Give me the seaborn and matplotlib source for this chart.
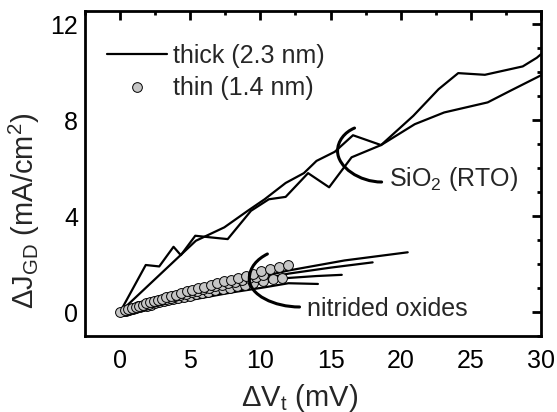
import matplotlib
matplotlib.use("Agg")
import matplotlib.pyplot as plt
from matplotlib.path import Path
from matplotlib.patches import PathPatch
from matplotlib.lines import Line2D
from matplotlib.ticker import MultipleLocator
import pandas as pd
import seaborn as sns

# ---- thick oxide (2.3 nm): SiO2 (RTO) curves ----
rto_a_dv = [0, 1.83, 2.79, 3.81, 4.33, 5.36, 6.48, 7.67, 9.33, 10.6, 11.8, 13.4,
            14.9, 16.5, 18.6, 21.0, 23.1, 26.2, 27.8, 29.7, 30.0]
rto_a_dj = [0, 1.96, 1.90, 2.72, 2.37, 3.18, 3.11, 3.04, 4.22, 4.70, 4.80, 5.79,
            5.20, 6.45, 6.96, 7.83, 8.32, 8.74, 9.22, 9.78, 9.87]
rto_b_dv = [0, 5.4, 7.43, 9.1, 10.3, 11.8, 13.1, 14.0, 15.3, 16.6, 18.6, 20.9,
            22.7, 24.1, 26.0, 28.7, 29.7, 30.0]
rto_b_dj = [0, 2.97, 3.53, 4.22, 4.70, 5.38, 5.79, 6.30, 6.68, 7.37, 6.96, 8.18,
            9.29, 9.96, 9.89, 10.24, 10.60, 10.75]

# ---- thick oxide (2.3 nm): nitrided oxides ----
nit1_dv = [0, 2, 5, 8, 12, 16, 20.5]
nit1_dj = [0, 0.30, 0.75, 1.20, 1.73, 2.15, 2.49]
nit2_dv = [0, 2, 5, 8, 12, 15, 18.0]
nit2_dj = [0, 0.28, 0.70, 1.12, 1.60, 1.85, 2.07]
nit3_dv = [0, 2, 5, 8, 12, 14, 15.8]
nit3_dj = [0, 0.25, 0.62, 1.00, 1.42, 1.50, 1.55]
nit4_dv = [0, 2, 5, 8, 10.3, 12, 14.1]
nit4_dj = [0, 0.20, 0.50, 0.82, 1.03, 1.20, 1.17]

# ---- thin oxide (1.4 nm): nitrided oxides ----
thin1_dv = [0, 0.35, 0.6, 0.85, 1.1, 1.35, 1.6, 1.85, 2.1, 2.4, 2.7, 3.0, 3.3, 3.65,
            4.0, 4.35, 4.75, 5.15, 5.55, 6.0, 6.45, 6.9, 7.4, 7.9, 8.4, 8.95, 9.5,
            10.05, 10.65, 11.3, 12.0]
thin1_dj = [0, 0.07, 0.12, 0.17, 0.22, 0.26, 0.31, 0.36, 0.40, 0.45, 0.51, 0.56, 0.62,
            0.68, 0.73, 0.79, 0.86, 0.92, 0.99, 1.06, 1.13, 1.20, 1.28, 1.35, 1.43,
            1.52, 1.60, 1.72, 1.80, 1.88, 1.97]
thin2_dv = [0.3, 0.55, 0.8, 1.05, 1.3, 1.55, 1.8, 2.05, 2.35, 2.65, 2.95, 3.25, 3.6,
            3.95, 4.3, 4.7, 5.1, 5.5, 5.9, 6.35, 6.8, 7.25, 7.7, 8.2, 8.7, 9.2, 9.7, 10.2]
thin2_dj = [0.05, 0.10, 0.14, 0.18, 0.23, 0.27, 0.31, 0.35, 0.40, 0.45, 0.50, 0.54,
            0.60, 0.65, 0.70, 0.76, 0.82, 0.88, 0.94, 1.00, 1.07, 1.13, 1.19, 1.26,
            1.33, 1.40, 1.47, 1.55]
thin3_dv = [0.4, 0.65, 0.9, 1.15, 1.4, 1.65, 1.9, 2.2, 2.5, 2.8, 3.1, 3.45, 3.8, 4.15,
            4.55, 4.95, 5.4, 5.85, 6.3, 6.8, 7.3, 7.8, 8.35, 8.9, 9.5, 10.2, 10.9, 11.55]
thin3_dj = [0.04, 0.08, 0.12, 0.16, 0.20, 0.23, 0.27, 0.31, 0.36, 0.40, 0.44, 0.49,
            0.54, 0.58, 0.63, 0.68, 0.74, 0.79, 0.85, 0.91, 0.97, 1.02, 1.08, 1.13,
            1.19, 1.30, 1.36, 1.40]

x_ticks = [0, 5, 10, 15, 20, 25, 30]
y_ticks = [0, 4, 8, 12]
legend_labels = ["thick (2.3 nm)", "thin (1.4 nm)"]

thick_curves = {
    "rto_a": (rto_a_dv, rto_a_dj), "rto_b": (rto_b_dv, rto_b_dj),
    "nit1": (nit1_dv, nit1_dj), "nit2": (nit2_dv, nit2_dj),
    "nit3": (nit3_dv, nit3_dj), "nit4": (nit4_dv, nit4_dj),
}
thick = pd.concat(
    [pd.DataFrame({"dV": dv, "dJ": dj, "curve": name}) for name, (dv, dj) in thick_curves.items()],
    ignore_index=True)
thin = pd.concat(
    [pd.DataFrame({"dV": dv, "dJ": dj, "curve": name})
     for name, (dv, dj) in {"t1": (thin1_dv, thin1_dj), "t2": (thin2_dv, thin2_dj),
                            "t3": (thin3_dv, thin3_dj)}.items()],
    ignore_index=True)

sns.set_theme(style="white")
plt.rcParams["font.family"] = ["Liberation Sans", "DejaVu Sans"]
plt.rcParams["mathtext.fontset"] = "custom"
plt.rcParams["mathtext.rm"] = "Liberation Sans"
plt.rcParams["mathtext.it"] = "Liberation Sans:italic"
plt.rcParams["mathtext.bf"] = "Liberation Sans:bold"

FS = 18
LABEL_FS = 21
GREY = "#c6c6c6"
fig = plt.figure(figsize=(5.57, 4.12), dpi=100)
ax = fig.add_axes([85 / 557, 76 / 412, 456 / 557, 325 / 412])

sns.lineplot(data=thick, x="dV", y="dJ", units="curve", estimator=None, sort=False,
             color="black", linewidth=1.6, ax=ax, legend=False, zorder=2)
for name in ["t3", "t2", "t1"]:
    sub = thin[thin["curve"] == name]
    sns.scatterplot(data=sub, x="dV", y="dJ", color=GREY, edgecolor="black",
                    linewidth=0.7, s=50, ax=ax, legend=False, zorder=3)

# bracket arcs marking each group
def bracket(pts):
    codes = [Path.MOVETO] + [Path.CURVE4] * 6
    ax.add_patch(PathPatch(Path(pts, codes), fill=False, edgecolor="black",
                           linewidth=2.2, capstyle="round", zorder=4))

bracket([(16.71, 7.67), (16.0, 7.5), (15.5, 7.125), (15.5, 6.71),
         (15.5, 6.04), (17.07, 5.42), (18.64, 5.42)])
bracket([(10.5, 2.42), (9.79, 2.21), (9.21, 1.875), (9.21, 1.375),
         (9.21, 0.71), (11.0, 0.21), (12.79, 0.21)])

ax.text(19.2, 5.25, "SiO$_\\mathregular{2}$ (RTO)", fontsize=FS, va="baseline", ha="left")
ax.text(13.3, -0.15, "nitrided oxides", fontsize=FS, va="baseline", ha="left")

ax.set_xlim(-2.5, 30)
ax.set_ylim(-1, 12.55)
ax.set_xticks(x_ticks)
ax.set_yticks(y_ticks)
ax.xaxis.set_minor_locator(MultipleLocator(2.5))
ax.yaxis.set_minor_locator(MultipleLocator(1))
ax.tick_params(which="both", direction="in", top=True, right=True, width=2.0,
               colors="black", labelsize=FS)
ax.tick_params(which="major", length=6.5, pad=9)
ax.tick_params(which="minor", length=3.2)
ax.tick_params(axis="y", which="major", pad=5)
for sp in ax.spines.values():
    sp.set_linewidth(2.0)
    sp.set_color("black")

ax.set_xlabel("ΔV$_\\mathregular{t}$ (mV)", fontsize=LABEL_FS)
ax.set_ylabel("ΔJ$_\\mathregular{GD}$ (mA/cm$^\\mathregular{2}$)", fontsize=LABEL_FS)
ax.xaxis.set_label_coords(0.4715, -0.14)
ax.yaxis.set_label_coords(-0.095, 0.385)

handles = [
    Line2D([], [], color="black", linewidth=1.6),
    Line2D([], [], linestyle="none", marker="o", markersize=7, markerfacecolor=GREY,
           markeredgecolor="black", markeredgewidth=0.7),
]
ax.legend(handles, legend_labels, loc="upper left", bbox_to_anchor=(0.048, 0.90),
          frameon=False, fontsize=FS, handlelength=2.4, handletextpad=0.25,
          borderpad=0, borderaxespad=0, labelspacing=0.36)

fig.savefig("out.png", dpi=100)
